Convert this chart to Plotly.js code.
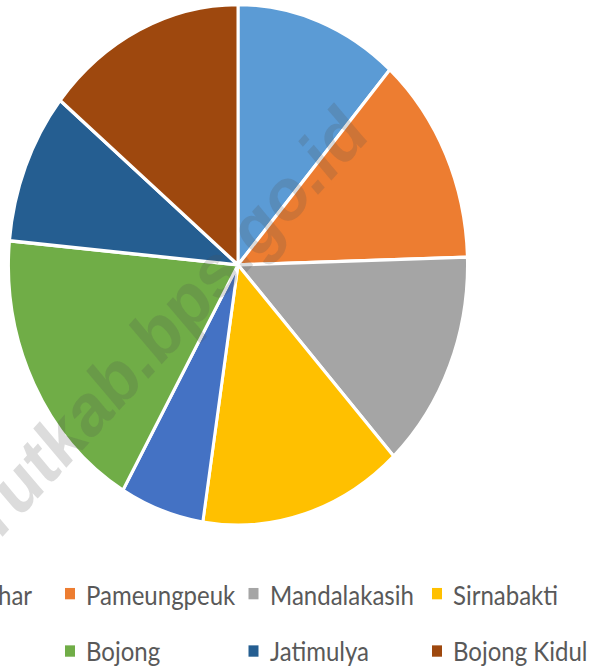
<!DOCTYPE html>
<html><head><meta charset="utf-8">
<script src="https://cdn.plot.ly/plotly-3.0.1.min.js"></script>
<style>
html,body{margin:0;padding:0;background:#fff;overflow:hidden;}
#wrap{width:590px;height:667px;overflow:hidden;position:relative;}
#chart{width:590px;height:588px;transform:scaleY(1.1344);transform-origin:0 0;}
</style></head><body><div id="wrap"><div id="chart"></div></div>
<script>
// Data (share of each desa, %)
const labels = ["Mancagahar", "Pameungpeuk", "Mandalakasih", "Sirnabakti", "Paas", "Bojong", "Jatimulya", "Bojong Kidul"];
const values = [11.5, 13.0, 13.6, 14.3, 5.9, 18.1, 9.4, 14.1];
const colors = ["#5B9BD5", "#ED7D31", "#A5A5A5", "#FFC000", "#4472C4", "#70AD47", "#255E91", "#9E480E"];
const watermark = "garutkab.bps.go.id";

const W = 590, H = 588;
const cx = 238, cy = 233.5, R = 229.5;

const annotations = [];
const shapes = [];
const colStep = 183.5, col0 = 65 - colStep, rowY = [523.3, 573.9];
labels.forEach((lab, i) => {
  const r = Math.floor(i / 4), c = i % 4;
  const sx = col0 + c * colStep, sy = rowY[r];
  shapes.push({type: 'rect', xref: 'paper', yref: 'paper',
    x0: sx / W, x1: (sx + 10) / W, y0: 1 - (sy + 5) / H, y1: 1 - (sy - 5) / H,
    fillcolor: colors[i], line: {width: 0}});
  annotations.push({xref: 'paper', yref: 'paper', x: (sx + 19) / W, y: 1 - sy / H,
    xanchor: 'left', yanchor: 'middle', showarrow: false, text: lab,
    font: {family: 'Lato, sans-serif', size: 24, color: '#595959'}});
});
annotations.push({xref: 'paper', yref: 'paper', x: 141 / W, y: 1 - 309 / H,
  xanchor: 'center', yanchor: 'middle', showarrow: false, text: watermark, textangle: -43.7,
  font: {family: 'Liberation Sans, Arial, sans-serif', size: 66, weight: 'bold', color: 'rgba(80,80,80,0.2)'}});

const trace = {
  type: 'pie', labels: labels, values: values, sort: false, direction: 'clockwise', rotation: 0,
  marker: {colors: colors, line: {color: '#ffffff', width: 3}},
  textinfo: 'none', hoverinfo: 'label+percent',
  domain: {x: [(cx - R) / W, (cx + R) / W], y: [1 - (cy + R) / H, 1 - (cy - R) / H]}
};

Plotly.newPlot('chart', [trace], {
  width: W, height: H, margin: {l: 0, r: 0, t: 0, b: 0},
  paper_bgcolor: '#ffffff', showlegend: false,
  annotations: annotations, shapes: shapes
}, {displayModeBar: false, staticPlot: true});
</script></body></html>
